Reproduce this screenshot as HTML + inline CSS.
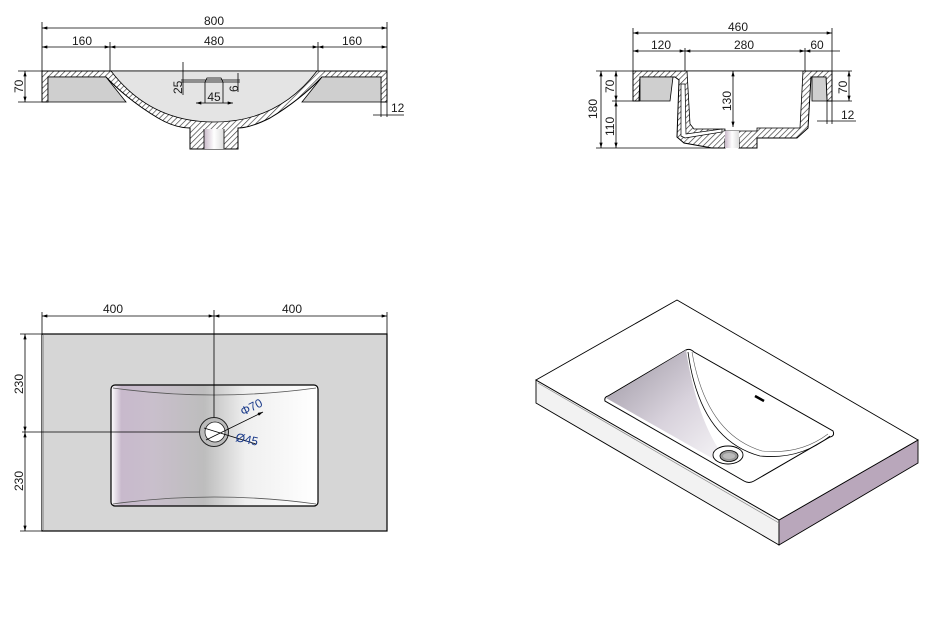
<!DOCTYPE html>
<html><head><meta charset="utf-8"><style>
html,body{margin:0;padding:0;background:#fff;}
svg{display:block;}
text{font-family:"Liberation Sans",Arial,sans-serif;font-size:12px;fill:#1a1a1a;}
.d{stroke:#000;stroke-width:0.8;fill:none;}
</style></head><body>
<svg width="937" height="617" viewBox="0 0 937 617" xmlns="http://www.w3.org/2000/svg">
<defs>
<pattern id="h" width="4" height="4" patternUnits="userSpaceOnUse" patternTransform="rotate(45)">
<rect width="4" height="4" fill="#fff"/><line x1="0" y1="0" x2="0" y2="4" stroke="#333" stroke-width="1.3"/>
</pattern>
<marker id="a" viewBox="0 0 10 6" refX="10" refY="3" markerWidth="8" markerHeight="4" orient="auto-start-reverse"><path d="M0,0 L10,3 L0,6z" fill="#000"/></marker>
<linearGradient id="bg" x1="0" x2="1" y1="0" y2="0">
<stop offset="0" stop-color="#fff"/><stop offset="0.05" stop-color="#c8b9cc"/><stop offset="0.2" stop-color="#c9bfcc"/><stop offset="0.45" stop-color="#bdbdbd"/><stop offset="0.65" stop-color="#efefef"/><stop offset="1" stop-color="#fff"/>
</linearGradient>
<linearGradient id="ig" x1="0" y1="0" x2="1" y2="1">
<stop offset="0" stop-color="#9a94a0"/><stop offset="0.5" stop-color="#d8d2dc"/><stop offset="1" stop-color="#fff"/>
</linearGradient>
<linearGradient id="dg" x1="0" x2="1"><stop offset="0" stop-color="#c8b8c8"/><stop offset="0.5" stop-color="#fff"/><stop offset="1" stop-color="#ddd"/></linearGradient>
</defs>

<!-- ===== Top-left section ===== -->
<line class="d" x1="42" y1="22" x2="42" y2="102"/>
<line class="d" x1="387" y1="22" x2="387" y2="102"/>
<line class="d" x1="110" y1="42" x2="110" y2="71"/>
<line class="d" x1="318" y1="42" x2="318" y2="71"/>
<line class="d" x1="42" y1="28" x2="387" y2="28" marker-start="url(#a)" marker-end="url(#a)"/>
<text x="214" y="25" text-anchor="middle">800</text>
<line class="d" x1="42" y1="47" x2="110" y2="47" marker-start="url(#a)" marker-end="url(#a)"/>
<line class="d" x1="110" y1="47" x2="318" y2="47" marker-start="url(#a)" marker-end="url(#a)"/>
<line class="d" x1="318" y1="47" x2="387" y2="47" marker-start="url(#a)" marker-end="url(#a)"/>
<text x="82" y="45" text-anchor="middle">160</text>
<text x="214" y="45" text-anchor="middle">480</text>
<text x="352" y="45" text-anchor="middle">160</text>
<path d="M42,71 L387,71 L387,102 L381,102 L381,77 L322,77 Q300,100 270,118 Q250,128 238,128 L238,149 L190,149 L190,128 Q175,128 158,118 Q128,100 106,77 L48,77 L48,102 L42,102 Z" fill="url(#h)" stroke="#000" stroke-width="1"/>
<path d="M48,77 L106,77 L126,102 L48,102 Z" fill="#cfcfcf" stroke="#000" stroke-width="0.8"/>
<path d="M381,77 L322,77 L302,102 L381,102 Z" fill="#cfcfcf" stroke="#000" stroke-width="0.8"/>
<path d="M111,71 Q150,122 214,122 Q278,122 317,71 Z" fill="#e4e4e4" stroke="#000" stroke-width="0.8"/>
<rect x="204" y="129" width="20" height="20" fill="url(#dg)"/>
<line class="d" x1="204" y1="129" x2="204" y2="149"/><line class="d" x1="224" y1="129" x2="224" y2="149"/>
<line class="d" x1="183" y1="62" x2="183" y2="95"/>
<line class="d" x1="181" y1="80" x2="240" y2="80"/>
<line class="d" x1="181" y1="82" x2="240" y2="82"/>
<line class="d" x1="238" y1="73" x2="238" y2="92"/>
<path d="M205,82 L207,78 L221,78 L223,82" class="d"/>
<line class="d" x1="205" y1="82" x2="205" y2="103"/><line class="d" x1="223" y1="82" x2="223" y2="103"/>
<line class="d" x1="196" y1="103" x2="233" y2="103" marker-start="url(#a)" marker-end="url(#a)"/>
<text x="214" y="101" text-anchor="middle">45</text>
<text transform="translate(182,94) rotate(-90)">25</text>
<text transform="translate(238,92) rotate(-90)">6</text>
<line class="d" x1="18" y1="71" x2="42" y2="71"/>
<line class="d" x1="18" y1="102" x2="42" y2="102"/>
<line class="d" x1="25" y1="71" x2="25" y2="102" marker-start="url(#a)" marker-end="url(#a)"/>
<text transform="translate(23,93) rotate(-90)">70</text>
<line class="d" x1="381" y1="102" x2="381" y2="117"/>
<line class="d" x1="387" y1="102" x2="387" y2="117"/>
<line class="d" x1="373" y1="115" x2="404" y2="115"/>
<text x="391" y="112">12</text>

<!-- ===== Top-right section ===== -->
<line class="d" x1="633" y1="28" x2="633" y2="71"/>
<line class="d" x1="832" y1="28" x2="832" y2="71"/>
<line class="d" x1="685" y1="48" x2="685" y2="71"/>
<line class="d" x1="805" y1="48" x2="805" y2="71"/>
<line class="d" x1="633" y1="33" x2="832" y2="33" marker-start="url(#a)" marker-end="url(#a)"/>
<text x="738" y="31" text-anchor="middle">460</text>
<line class="d" x1="633" y1="51" x2="685" y2="51" marker-start="url(#a)" marker-end="url(#a)"/>
<line class="d" x1="685" y1="51" x2="805" y2="51" marker-start="url(#a)" marker-end="url(#a)"/>
<line class="d" x1="805" y1="51" x2="840" y2="51" marker-start="url(#a)"/>
<text x="661" y="49" text-anchor="middle">120</text>
<text x="744" y="49" text-anchor="middle">280</text>
<text x="817" y="49" text-anchor="middle">60</text>
<path d="M633,71 L832,71 L832,101 L827,101 L826,77 L811,77 L808,128 L797,138 L757,138 L757,148 L739,148 L739,139 L725,139 L725,148 L712,148 L684,143 L677,137 L679,80 L675,77 L640,77 L639,101 L633,101 Z" fill="url(#h)" stroke="#000" stroke-width="1"/>
<path d="M640,77 L673,77 L670,101 L640,101 Z" fill="#cfcfcf" stroke="#000" stroke-width="0.8"/>
<path d="M812,77 L826,77 L827,101 L812,101 Z" fill="#cfcfcf" stroke="#000" stroke-width="0.8"/>
<path d="M687,71 L803,71 L800,128 L757,128 L757,131 L725,131 L725,129 L694,129 L690,124 Z" fill="#fff" stroke="#000" stroke-width="0.8"/>
<path d="M681,84 L685,84 L686,134 L722,129 L722,132 L685,138 L681,136 Z" fill="#fff" stroke="#000" stroke-width="0.7"/>
<rect x="725" y="131" width="14" height="17" fill="url(#dg)"/>
<line class="d" x1="596" y1="71" x2="633" y2="71"/>
<line class="d" x1="612" y1="101" x2="640" y2="101"/>
<line class="d" x1="596" y1="148" x2="712" y2="148"/>
<line class="d" x1="601" y1="71" x2="601" y2="148" marker-start="url(#a)" marker-end="url(#a)"/>
<line class="d" x1="616" y1="71" x2="616" y2="101" marker-start="url(#a)" marker-end="url(#a)"/>
<line class="d" x1="616" y1="101" x2="616" y2="148" marker-start="url(#a)" marker-end="url(#a)"/>
<text transform="translate(597,119) rotate(-90)">180</text>
<text transform="translate(614,93) rotate(-90)">70</text>
<text transform="translate(614,136) rotate(-90)">110</text>
<line class="d" x1="733" y1="71" x2="733" y2="127" marker-start="url(#a)" marker-end="url(#a)"/>
<text transform="translate(731,111) rotate(-90)">130</text>
<line class="d" x1="832" y1="71" x2="852" y2="71"/>
<line class="d" x1="827" y1="101" x2="852" y2="101"/>
<line class="d" x1="849" y1="71" x2="849" y2="101" marker-start="url(#a)" marker-end="url(#a)"/>
<text transform="translate(847,94) rotate(-90)">70</text>
<line class="d" x1="827" y1="101" x2="827" y2="124"/>
<line class="d" x1="832" y1="101" x2="832" y2="124"/>
<line class="d" x1="817" y1="121" x2="856" y2="121"/>
<text x="841" y="119">12</text>

<!-- ===== Bottom-left plan ===== -->
<line class="d" x1="42" y1="312" x2="42" y2="334"/>
<line class="d" x1="387" y1="312" x2="387" y2="334"/>
<line class="d" x1="42" y1="316" x2="214" y2="316" marker-start="url(#a)" marker-end="url(#a)"/>
<line class="d" x1="214" y1="316" x2="387" y2="316" marker-start="url(#a)" marker-end="url(#a)"/>
<text x="113" y="313" text-anchor="middle">400</text>
<text x="292" y="313" text-anchor="middle">400</text>
<rect x="42" y="334" width="345" height="197" fill="#d6d6d6" stroke="#000" stroke-width="1.2"/>
<line x1="43" y1="335" x2="43" y2="530" stroke="#aaa" stroke-width="2"/>
<rect x="111" y="385" width="207" height="121" rx="4" fill="url(#bg)" stroke="#000" stroke-width="1.2"/>
<path d="M113,388 Q214,402 316,388" stroke="#555" stroke-width="0.8" fill="none"/>
<path d="M113,504 Q214,490 316,504" stroke="#555" stroke-width="0.8" fill="none"/>
<line class="d" x1="214" y1="310" x2="214" y2="432"/>
<line class="d" x1="22" y1="432" x2="214" y2="432"/>
<line class="d" x1="20" y1="334" x2="42" y2="334"/>
<line class="d" x1="20" y1="531" x2="42" y2="531"/>
<line class="d" x1="25" y1="334" x2="25" y2="432" marker-start="url(#a)" marker-end="url(#a)"/>
<line class="d" x1="25" y1="432" x2="25" y2="531" marker-start="url(#a)" marker-end="url(#a)"/>
<text transform="translate(23,394) rotate(-90)">230</text>
<text transform="translate(23,491) rotate(-90)">230</text>
<circle cx="214" cy="432" r="14.5" fill="#bbb" stroke="#222" stroke-width="1"/>
<circle cx="215" cy="432" r="10" fill="#fff" stroke="#222" stroke-width="0.8"/>
<line class="d" x1="206" y1="440" x2="263" y2="412" marker-end="url(#a)"/>
<line class="d" x1="204" y1="428" x2="256" y2="444"/>
<text transform="translate(243,416) rotate(-27)" style="fill:#1a3a8a">Φ70</text>
<text transform="translate(235,441) rotate(12)" style="fill:#1a3a8a">Ø45</text>

<!-- ===== Isometric ===== -->
<path d="M536,380 L779,520 L779,545 L536,403 Z" fill="#f2f2f2" stroke="#000" stroke-width="0.9"/>
<path d="M779,520 L918,440 L918,463 L779,545 Z" fill="#b9a7bb" stroke="#000" stroke-width="0.9"/>
<path d="M677,300 L918,440 L779,520 L536,380 Z" fill="#fff" stroke="#000" stroke-width="0.9"/>
<line x1="538" y1="383" x2="779" y2="523" stroke="#888" stroke-width="0.7"/>
<path d="M686,350 Q690,348 694,352 L833,431 Q835,436 830,437 L754,481 Q749,484 744,481 L605,401 Q604,397 608,396 Z" fill="#fff" stroke="#000" stroke-width="1"/>
<path d="M686,350 L606,398 L740,474 Q700,440 686,350 Z" fill="url(#ig)"/>
<path d="M688,352 Q700,440 760,456 Q800,460 830,436" fill="none" stroke="#000" stroke-width="0.8"/>
<path d="M692,352 Q706,434 762,451 Q800,455 828,434" fill="none" stroke="#555" stroke-width="0.6"/>
<ellipse cx="728" cy="455" rx="15" ry="9" fill="#fff" stroke="#000" stroke-width="0.9"/>
<ellipse cx="729" cy="456" rx="9" ry="5.5" fill="#999" stroke="#000" stroke-width="0.8"/>
<ellipse cx="729" cy="456" rx="6" ry="3" fill="#bbb"/>
<path d="M755,396 L764,401" stroke="#000" stroke-width="2.5"/>
</svg>
</body></html>
